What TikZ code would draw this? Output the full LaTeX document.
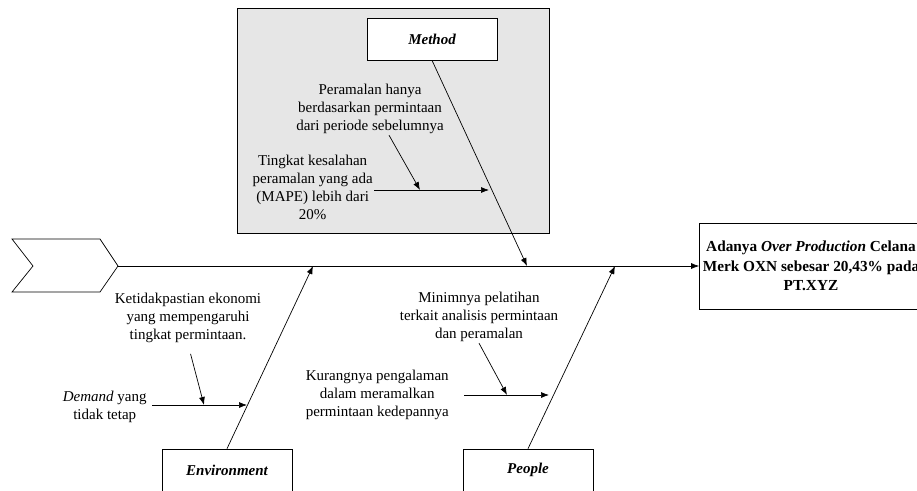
\documentclass[tikz,border=0pt]{standalone}
\usepackage{fontspec}
\setmainfont{Liberation Serif}
\usetikzlibrary{positioning,arrows.meta}
\definecolor{methodgray}{RGB}{230,230,230}
\tikzset{
  catbox/.style = {draw, fill=white, minimum width=130pt, minimum height=42pt, font=\fontsize{15}{18}\selectfont\bfseries\itshape},
  cause/.style  = {align=center, inner sep=1pt},
  bone/.style   = {-{Latex[length=8pt,width=6pt]}},
}

\begin{document}
\begin{tikzpicture}[x=1pt, y=-1pt, line width=0.7pt, font=\fontsize{15}{18}\selectfont]
  \useasboundingbox (0,0) rectangle (917,490);
  \clip (0,0) rectangle (917,490);

  % Method area
  \node[draw, fill=methodgray, minimum width=312pt, minimum height=225pt, anchor=north west] (area) at (237,8) {};

  % Categories
  \node[catbox] (method) at (432,39) {Method};
  \node[catbox] (env) at (227,470) {Environment};
  \node[catbox] (people) at (528,470) {People};

  % Effect
  \node[draw, minimum width=220pt, minimum height=86pt, align=center, font=\fontsize{15.3}{19.5}\selectfont\bfseries] (effect) at (811,266)
    {Adanya \textit{Over Production} Celana\\ Merk OXN sebesar 20,43\% pada\\ PT.XYZ};

  % Head of the spine
  \draw (12,239) -- (100,239) -- (118,266) -- (100,292) -- (12,292) -- (33,266) -- cycle;
  \coordinate (tail) at (118,266);

  % Joints on the spine
  \coordinate (jm) at (527,266);
  \coordinate (je) at (313,266);
  \coordinate (jp) at (615,266);

  % Spine and bones
  \draw[bone] (tail) -- (effect.west);
  \draw[bone] (method.south) -- (jm);
  \draw[bone] (env.north) -- (je);
  \draw[bone] (people.north) -- (jp);

  % Causes: Method
  \node[cause, anchor=east] (mape) at (374,187) {Tingkat kesalahan\\ peramalan yang ada\\ (MAPE) lebih dari\\ 20\%};
  \coordinate (mapeend) at (489,190);
  \draw[bone] (mape.east |- mapeend) -- (mapeend);
  \node[cause] (hist) at (370,109) {Peramalan hanya\\ berdasarkan permintaan\\ dari periode sebelumnya};
  \coordinate (histend) at (420,190);
  \draw[bone] ([xshift=19pt]hist.south) -- (histend);

  % Causes: Environment
  \node[cause] (econ) at (188,318) {Ketidakpastian ekonomi\\ yang mempengaruhi\\ tingkat permintaan.};
  \coordinate (econend) at (204,405);
  \draw[bone, shorten <=10pt] (econ.south) -- (econend);
  \node[cause, anchor=east] (demand) at (148,407) {\textit{Demand} yang\\ tidak tetap};
  \coordinate (demandend) at (247,405);
  \draw[bone] (demand.east |- demandend) ++(4,0) -- (demandend);

  % Causes: People
  \node[cause] (train) at (479,317) {Minimnya pelatihan\\ terkait analisis permintaan\\ dan peramalan};
  \coordinate (trainend) at (507,395);
  \draw[bone] (train.south) -- (trainend);
  \node[cause, anchor=east] (exper) at (450,395) {Kurangnya pengalaman\\ dalam meramalkan\\ permintaan kedepannya};
  \coordinate (experend) at (549,395);
  \draw[bone, shorten <=14pt] (exper.east) -- (experend);
\end{tikzpicture}
\end{document}
